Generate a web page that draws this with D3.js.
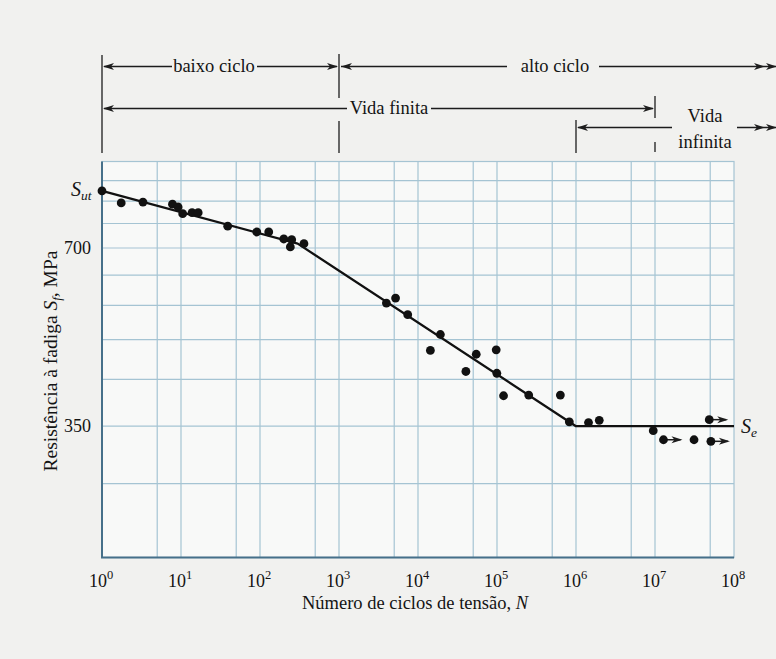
<!DOCTYPE html>
<html>
<head>
<meta charset="utf-8">
<script src="https://cdn.jsdelivr.net/npm/d3@7"></script>
<style>
    body { margin: 0; background: #f1f1ef; }
    text { font-family: "Liberation Serif", "DejaVu Serif", serif; fill: #141414; }
</style>
</head>
<body>
<svg id="chart" width="776" height="659"></svg>
<script>

// test results: cycles to failure and fatigue strength (MPa)
var cycles   = [1, 1.75, 3.3, 7.8, 9.2, 10.5, 13.8, 16.5, 39, 91, 129, 200, 252, 242, 360,
                3980, 5200, 7410, 19200, 14350, 54600, 97700, 40400, 99500, 121000, 252000, 634000,
                823000, 1.44e6, 1.97e6, 4.86e7, 9.5e6, 1.28e7, 3.12e7, 5.1e7];
var strength = [874, 834, 837, 830, 821, 800, 803, 803, 762, 745, 745, 725, 723, 703, 712,
                565, 576, 540, 500, 470, 463, 471, 433, 430, 394, 395, 395,
                356, 355, 358, 359, 344, 332, 332, 330];
// specimens that did not fail (run-outs)
var runout   = [false, false, false, false, false, false, false, false, false, false, false, false, false, false, false,
                false, false, false, false, false, false, false, false, false, false, false, false,
                false, false, false, true, false, true, false, true];

// fitted S-N curve
var curveN = [1, 300, 1e6, 1e8];
var curveS = [874, 712, 350, 350];

// axes
var decades   = [0, 1, 2, 3, 4, 5, 6, 7, 8];
var gridS     = [280, 350, 420, 490, 560, 630, 700, 770, 840, 910];
var yLabels   = [350, 700];
var Sut = 874, Se = 350;

var svg = d3.select("#chart");

var x = d3.scaleLog().domain([1, 1e8]).range([102, 734]);
var y = d3.scaleLog().domain([210, 980]).range([557.5, 161.5]);

var gridColor = "#a5c4d3",
    axisColor = "#46708a",
    ink = "#1c1c1c";

// plot background
svg.append("rect")
    .attr("x", x(1)).attr("y", y(980))
    .attr("width", x(1e8) - x(1)).attr("height", y(210) - y(980))
    .attr("fill", "#f8f9f8")
    .attr("stroke", gridColor).attr("stroke-width", 1.2);

// vertical grid: 10^n and 5*10^n
var gridN = [];
decades.forEach(function (d) {
    if (d > 0 && d < 8) gridN.push(Math.pow(10, d));
    if (d < 8) gridN.push(5 * Math.pow(10, d));
});

svg.append("g").selectAll("line")
    .data(gridN)
    .enter().append("line")
    .attr("x1", function (d) { return x(d); })
    .attr("x2", function (d) { return x(d); })
    .attr("y1", y(980)).attr("y2", y(210))
    .attr("stroke", gridColor).attr("stroke-width", 1.2);

svg.append("g").selectAll("line")
    .data(gridS)
    .enter().append("line")
    .attr("x1", x(1)).attr("x2", x(1e8))
    .attr("y1", function (d) { return y(d); })
    .attr("y2", function (d) { return y(d); })
    .attr("stroke", gridColor).attr("stroke-width", 1.2);

// left and bottom axes
svg.append("line")
    .attr("x1", x(1)).attr("x2", x(1))
    .attr("y1", y(980)).attr("y2", y(210))
    .attr("stroke", axisColor).attr("stroke-width", 2);
svg.append("line")
    .attr("x1", x(1) - 1).attr("x2", x(1e8))
    .attr("y1", y(210)).attr("y2", y(210))
    .attr("stroke", axisColor).attr("stroke-width", 2);

// x tick labels 10^n
var xt = svg.append("g").selectAll("text")
    .data(decades)
    .enter().append("text")
    .attr("x", function (d) { return x(Math.pow(10, d)) - 1; })
    .attr("y", 587)
    .attr("font-size", 18)
    .attr("text-anchor", "middle");
xt.append("tspan").text("10");
xt.append("tspan")
    .attr("dy", -8).attr("font-size", 12.5)
    .text(function (d) { return d; });

// y tick labels
svg.append("g").selectAll("text")
    .data(yLabels)
    .enter().append("text")
    .attr("x", 91)
    .attr("y", function (d) { return y(d) + 6; })
    .attr("font-size", 18)
    .attr("text-anchor", "end")
    .text(function (d) { return d; });

var sut = svg.append("text")
    .attr("x", 71).attr("y", y(Sut) + 5)
    .attr("font-size", 20).attr("font-style", "italic");
sut.append("tspan").text("S");
sut.append("tspan").attr("dy", 4).attr("font-size", 13.5).text("ut");

var se = svg.append("text")
    .attr("x", 741).attr("y", y(Se) + 7)
    .attr("font-size", 20).attr("font-style", "italic");
se.append("tspan").text("S");
se.append("tspan").attr("dy", 4).attr("font-size", 13.5).text("e");

// axis titles
var xl = svg.append("text")
    .attr("x", 415).attr("y", 609)
    .attr("font-size", 18.5)
    .attr("text-anchor", "middle");
xl.append("tspan").text("Número de ciclos de tensão, ");
xl.append("tspan").attr("font-style", "italic").text("N");

var yl = svg.append("text")
    .attr("transform", "translate(57,361) rotate(-90)")
    .attr("font-size", 19.5)
    .attr("text-anchor", "middle");
yl.append("tspan").text("Resistência à fadiga ");
yl.append("tspan").attr("font-style", "italic").text("S");
yl.append("tspan").attr("font-style", "italic").attr("font-size", 13).attr("dy", 4).text("f");
yl.append("tspan").attr("dy", -4).text(", MPa");

// S-N curve
var line = d3.line()
    .x(function (d) { return x(d[0]); })
    .y(function (d) { return y(d[1]); });

svg.append("path")
    .datum(d3.zip(curveN, curveS))
    .attr("d", line)
    .attr("fill", "none")
    .attr("stroke", "#111").attr("stroke-width", 2.3)
    .attr("stroke-linejoin", "round");

// arrowhead helper (tip at tx,ty pointing in dir: 1 right, -1 left)
function arrowHead(g, tx, ty, dir) {
    g.append("path")
        .attr("d", "M" + tx + "," + ty +
                   "L" + (tx - dir * 11) + "," + (ty - 3.5) +
                   "L" + (tx - dir * 8) + "," + ty +
                   "L" + (tx - dir * 11) + "," + (ty + 3.5) + "Z")
        .attr("fill", ink);
}

// run-out arrows
var pts = d3.zip(cycles, strength, runout);
var ro = svg.append("g");
pts.filter(function (d) { return d[2]; }).forEach(function (d) {
    var cx = x(d[0]), cy = y(d[1]);
    ro.append("line")
        .attr("x1", cx).attr("x2", cx + 17)
        .attr("y1", cy).attr("y2", cy)
        .attr("stroke", ink).attr("stroke-width", 1.5);
    arrowHead(ro, cx + 19, cy, 1);
});

// data points
svg.append("g").selectAll("circle")
    .data(pts)
    .enter().append("circle")
    .attr("cx", function (d) { return x(d[0]); })
    .attr("cy", function (d) { return y(d[1]); })
    .attr("r", 4.4)
    .attr("fill", "#111");

// life regions above the chart
var ann = svg.append("g");

function hLine(x1, x2, yy) {
    ann.append("line")
        .attr("x1", x1).attr("x2", x2)
        .attr("y1", yy).attr("y2", yy)
        .attr("stroke", ink).attr("stroke-width", 1.3);
}
function vLine(xx, y1, y2) {
    ann.append("line")
        .attr("x1", xx).attr("x2", xx)
        .attr("y1", y1).attr("y2", y2)
        .attr("stroke", ink).attr("stroke-width", 1.3);
}
function label(txt, xx, yy) {
    ann.append("text")
        .attr("x", xx).attr("y", yy)
        .attr("font-size", 18.5)
        .attr("text-anchor", "middle")
        .text(txt);
}

var x0 = x(1), x3 = x(1e3), x6 = x(1e6), x7 = x(1e7);

vLine(x0, 55, 153);
vLine(x3, 54, 98);
vLine(x3, 121, 153);
vLine(x6, 120, 153);
vLine(x7, 96, 118);
vLine(x7, 142, 152);

// baixo ciclo / alto ciclo
hLine(x0 + 2, 172, 66.5);
label("baixo ciclo", 214, 72);
hLine(257, x3 - 2, 66.5);
arrowHead(ann, x0 + 1, 66.5, -1);
arrowHead(ann, x3 - 1, 66.5, 1);
hLine(x3 + 2, 507, 66.5);
arrowHead(ann, x3 + 2, 66.5, -1);
label("alto ciclo", 555, 72);
hLine(599, 776, 66.5);
arrowHead(ann, 765, 66.5, 1);
arrowHead(ann, 777, 66.5, 1);

// vida finita
hLine(x0 + 2, 347, 108.5);
arrowHead(ann, x0 + 1, 108.5, -1);
label("Vida finita", 389, 114);
hLine(431, x7 - 2, 108.5);
arrowHead(ann, x7 - 1, 108.5, 1);

// vida infinita
hLine(x6 + 2, 672, 127.5);
arrowHead(ann, x6 + 1, 127.5, -1);
label("Vida", 705, 122);
label("infinita", 705, 148);
hLine(737, 776, 127.5);
arrowHead(ann, 765, 127.5, 1);
arrowHead(ann, 777, 127.5, 1);

</script>
</body>
</html>
